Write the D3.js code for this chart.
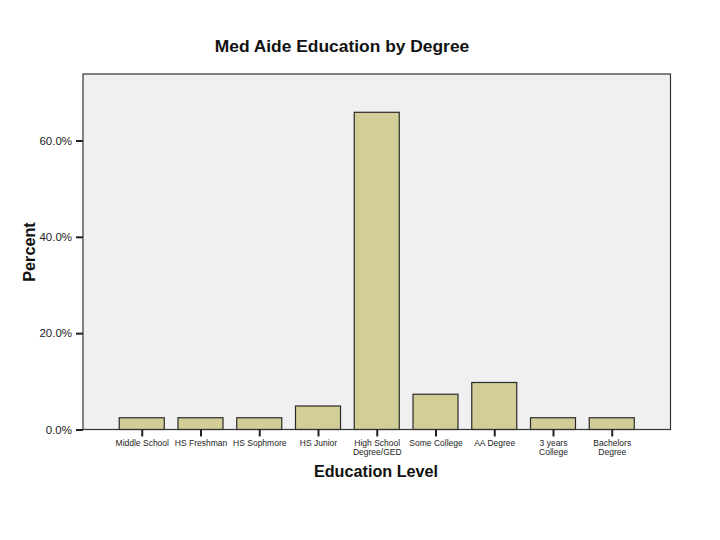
<!DOCTYPE html>
<html><head><meta charset="utf-8">
<script src="https://cdn.jsdelivr.net/npm/d3@7"></script>
<style>body{margin:0;background:#fff}svg{display:block}</style>
</head><body>
<script>
const categories = ["Middle School","HS Freshman","HS Sophmore","HS Junior","High School Degree/GED","Some College","AA Degree","3 years College","Bachelors Degree"];
const labelLines = [["Middle School"],["HS Freshman"],["HS Sophmore"],["HS Junior"],["High School","Degree/GED"],["Some College"],["AA Degree"],["3 years","College"],["Bachelors","Degree"]];
const percents = [2.44, 2.44, 2.44, 4.88, 65.85, 7.32, 9.76, 2.44, 2.44];
const yTicks = [0, 20, 40, 60];

const W = 720, H = 540;
const m = {left: 83, right: 49.5, top: 74, bottom: 110.5};
const svg = d3.select("body").append("svg").attr("width", W).attr("height", H);
const x = d3.scalePoint().domain(categories).range([m.left, W - m.right]).padding(1);
const y = d3.scaleLinear().domain([0, 73.8]).range([H - m.bottom, m.top]);
const font = "Arial, 'Liberation Sans', sans-serif";

svg.append("rect").attr("x", m.left).attr("y", m.top)
  .attr("width", W - m.right - m.left).attr("height", H - m.bottom - m.top)
  .attr("fill", "#f0f0f0");

svg.selectAll("rect.bar").data(percents).join("rect").attr("class","bar")
  .attr("x", (d,i) => x(categories[i]) - 22.5)
  .attr("width", 45)
  .attr("y", d => y(d))
  .attr("height", d => y(0) - y(d))
  .attr("fill", "#d3ce97").attr("stroke", "#2a2a2a").attr("stroke-width", 1.2);

svg.append("rect").attr("x", m.left).attr("y", m.top)
  .attr("width", W - m.right - m.left).attr("height", H - m.bottom - m.top)
  .attr("fill", "none").attr("stroke", "#333").attr("stroke-width", 1.2);

const yAxis = svg.append("g").attr("transform", `translate(${m.left},0)`)
  .call(d3.axisLeft(y).tickValues(yTicks).tickSize(7).tickPadding(4).tickFormat(d => d.toFixed(1) + "%"));
yAxis.select(".domain").remove();
yAxis.selectAll("line").attr("stroke", "#222").attr("stroke-width", 2);
yAxis.selectAll("text").attr("font-family", font).attr("font-size", 11.5).attr("fill", "#222");

const xAxis = svg.append("g").attr("transform", `translate(0,${H - m.bottom})`)
  .call(d3.axisBottom(x).tickSize(7).tickFormat(""));
xAxis.select(".domain").remove();
xAxis.selectAll("line").attr("stroke", "#222").attr("stroke-width", 2);
xAxis.selectAll(".tick").each(function(d, i) {
  const t = d3.select(this).append("text").attr("font-family", font).attr("font-size", 8.5)
    .attr("fill", "#222").attr("text-anchor", "middle");
  labelLines[i].forEach((ln, k) => t.append("tspan").attr("x", 0).attr("y", 16 + k * 9.5).text(ln));
});

svg.append("text").attr("x", 342).attr("y", 52).attr("text-anchor", "middle")
  .attr("font-family", font).attr("font-weight", "bold").attr("font-size", 17.4).attr("fill", "#111")
  .text("Med Aide Education by Degree");
svg.append("text").attr("x", 376).attr("y", 477).attr("text-anchor", "middle")
  .attr("font-family", font).attr("font-weight", "bold").attr("font-size", 16.2).attr("fill", "#111")
  .text("Education Level");
svg.append("text").attr("transform", "translate(35,252) rotate(-90)").attr("text-anchor", "middle")
  .attr("font-family", font).attr("font-weight", "bold").attr("font-size", 16.2).attr("fill", "#111")
  .text("Percent");
</script>
</body></html>
